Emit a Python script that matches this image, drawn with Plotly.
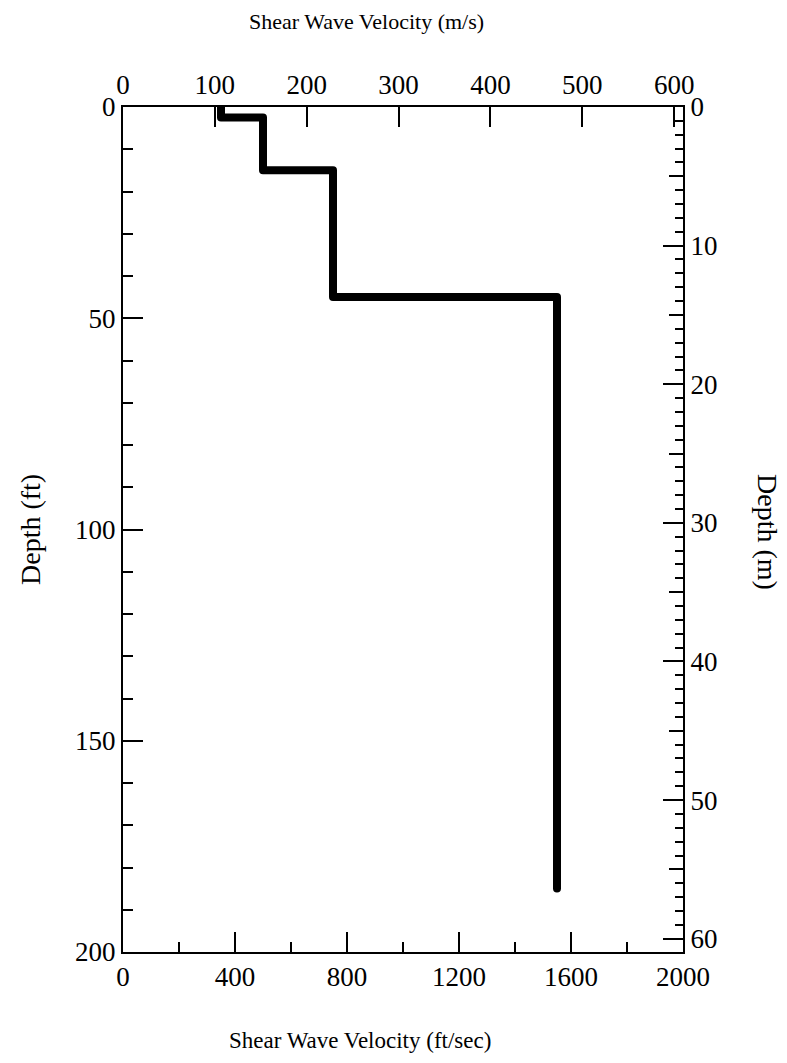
import plotly.graph_objects as go

# Data: shear wave velocity profile (ft/sec) vs depth (ft)
velocity_fps = [350, 350, 500, 500, 750, 750, 1550, 1550]
depth_ft = [0, 2.5, 2.5, 15, 15, 45, 45, 185]

# Axis ticks
x_bottom_ticks = [0, 400, 800, 1200, 1600, 2000]
x_bottom_minor = [200, 600, 1000, 1400, 1800]
x_top_ticks = [0, 100, 200, 300, 400, 500, 600]
y_left_ticks = [0, 50, 100, 150, 200]
y_left_minor = [v for v in range(10, 200, 10) if v % 50 != 0]
y_right_ticks = [0, 10, 20, 30, 40, 50, 60]
y_right_mid = [5, 15, 25, 35, 45, 55]
y_right_minor = [v for v in range(1, 61) if v % 5 != 0]

FT_PER_M = 3.28084
X_MAX_FPS = 2000
Y_MAX_FT = 200

FONT = "Liberation Serif"
TICKFONT = dict(family=FONT, size=27, color="black")
TOPTITLEFONT = dict(family=FONT, size=22, color="black")
BOTTITLEFONT = dict(family=FONT, size=23, color="black")
YTITLEFONT = dict(family=FONT, size=28, color="black")

W, H = 787, 1063
ML, MR, MT, MB = 123, 104, 107, 111

fig = go.Figure()
fig.add_trace(go.Scatter(
    x=velocity_fps, y=depth_ft, mode="lines",
    line=dict(color="black", width=8),
    xaxis="x", yaxis="y", showlegend=False, hoverinfo="skip",
))
# invisible helper traces so the secondary axes are drawn
fig.add_trace(go.Scatter(x=[None], y=[None], xaxis="x2", yaxis="y", showlegend=False, hoverinfo="skip"))
fig.add_trace(go.Scatter(x=[None], y=[None], xaxis="x", yaxis="y2", showlegend=False, hoverinfo="skip"))
fig.add_trace(go.Scatter(x=[None], y=[None], xaxis="x", yaxis="y3", showlegend=False, hoverinfo="skip"))

axis_common = dict(showgrid=False, zeroline=False, showline=True, linecolor="black",
                   linewidth=2, ticks="inside", tickcolor="black", tickwidth=2,
                   tickfont=TICKFONT)

plot_w = W - ML - MR
plot_h = H - MT - MB

def px_x(x):
    return (x - ML) / plot_w

def px_y(y):
    return (H - MB - y) / plot_h

fig.update_layout(
    width=W, height=H,
    margin=dict(l=ML, r=MR, t=MT, b=MB),
    paper_bgcolor="white", plot_bgcolor="white",
    xaxis=dict(range=[0, X_MAX_FPS], tickvals=x_bottom_ticks, ticklen=20,
               minor=dict(tickvals=x_bottom_minor, ticks="inside", ticklen=10,
                          tickcolor="black", tickwidth=2, showgrid=False),
               **axis_common),
    xaxis2=dict(range=[0, X_MAX_FPS / FT_PER_M], tickvals=x_top_ticks, ticklen=20,
                overlaying="x", side="top", anchor="y", **axis_common),
    yaxis=dict(range=[Y_MAX_FT, 0], tickvals=y_left_ticks, ticklen=20,
               minor=dict(tickvals=y_left_minor, ticks="inside", ticklen=10,
                          tickcolor="black", tickwidth=2, showgrid=False),
               **axis_common),
    yaxis2=dict(range=[Y_MAX_FT / FT_PER_M, 0], tickvals=y_right_ticks, ticklen=20,
                overlaying="y", side="right", anchor="x",
                minor=dict(tickvals=y_right_minor, ticks="inside", ticklen=8,
                           tickcolor="black", tickwidth=2, showgrid=False),
                **axis_common),
    yaxis3=dict(range=[Y_MAX_FT / FT_PER_M, 0], tickvals=y_right_mid, ticklen=14,
                overlaying="y", side="right", anchor="x", showticklabels=False,
                showgrid=False, zeroline=False, showline=False, ticks="inside",
                tickcolor="black", tickwidth=2),
    annotations=[
        dict(text="Shear Wave Velocity (m/s)", x=px_x(366), y=px_y(22),
             xref="paper", yref="paper", xanchor="center", yanchor="middle",
             showarrow=False, font=TOPTITLEFONT),
        dict(text="Shear Wave Velocity (ft/sec)", x=px_x(360), y=px_y(1040),
             xref="paper", yref="paper", xanchor="center", yanchor="middle",
             showarrow=False, font=BOTTITLEFONT),
        dict(text="Depth (ft)", x=px_x(30), y=px_y(530),
             xref="paper", yref="paper", xanchor="center", yanchor="middle",
             showarrow=False, font=YTITLEFONT, textangle=-90),
        dict(text="Depth (m)", x=px_x(768), y=px_y(532),
             xref="paper", yref="paper", xanchor="center", yanchor="middle",
             showarrow=False, font=YTITLEFONT, textangle=90),
    ],
)

post = """
document.body.style.margin='0';
document.querySelectorAll('.scatterlayer .js-line').forEach(function(p){
  p.style.strokeLinecap='round'; p.style.strokeLinejoin='round';
});
"""
fig.write_html("out.html", post_script=post, config={"displayModeBar": False})
